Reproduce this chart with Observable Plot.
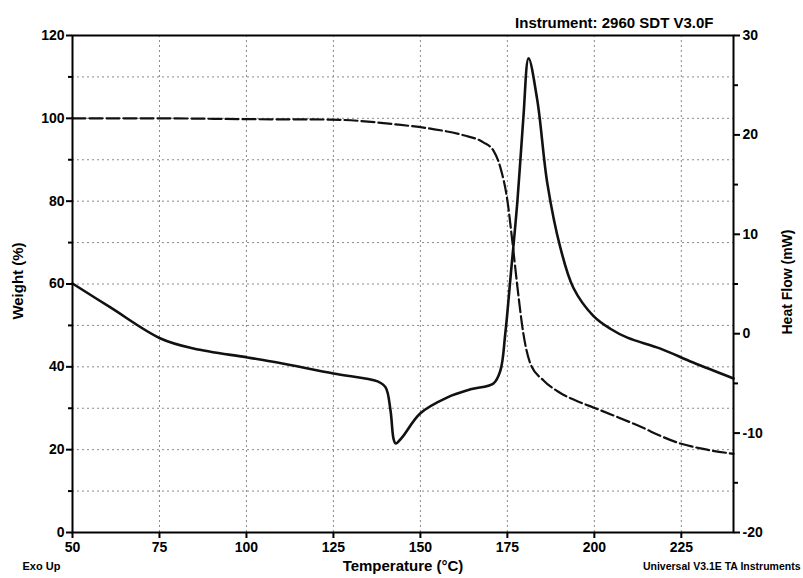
<!DOCTYPE html>
<html><head><meta charset="utf-8">
<script src="https://cdn.jsdelivr.net/npm/d3@7"></script>
<script src="https://cdn.jsdelivr.net/npm/@observablehq/plot@0.6"></script>
<style>body{margin:0;background:#fff}</style>
</head><body><div id="chart"></div>
<script>
// Heat flow (mW), right axis, solid line
const hfTemp  = [50, 60.9, 75.3, 84.8, 100.3, 108.9, 125, 137.7, 140, 141.4, 142.3, 142.9, 144.8, 150, 157.8, 164.4, 171, 173, 174.4, 175.9, 177.9, 179.6, 181.1, 183.6, 186.5, 190.2, 194, 199.7, 204.6, 209.5, 219, 228.4, 240];
const hfValue = [5.05, 2.64, -0.48, -1.49, -2.39, -2.9, -4.0, -4.8, -5.4, -7.7, -10.6, -11.05, -10.4, -8.0, -6.4, -5.6, -5.0, -3.7, 0.0, 5.65, 13.4, 21.75, 27.7, 23.5, 15.1, 8.7, 4.6, 1.8, 0.5, -0.4, -1.5, -2.9, -4.5];
// Weight (%), left axis, dashed line
const wtTemp  = [50, 75, 100, 124, 143.4, 152.9, 162.4, 168.1, 171, 173, 175, 176.4, 177.9, 179.6, 181.6, 185.4, 190, 196, 199.7, 211.2, 224.7, 230.5, 240];
const wtValue = [100, 100, 99.8, 99.7, 98.5, 97.5, 95.9, 94.2, 92.2, 88.1, 80.2, 70.5, 59.2, 48, 40.8, 36.7, 33.8, 31.4, 30.2, 26.3, 21.5, 20.3, 19.0];

const xTicks = [50, 75, 100, 125, 150, 175, 200, 225];
const xGrid = [75, 100, 125, 150, 175, 200, 225];
const weightTicks = [0, 20, 40, 60, 80, 100, 120];
const weightMinor = [10, 30, 50, 70, 90, 110];
const weightGrid = [10, 20, 30, 40, 50, 60, 70, 80, 90, 100, 110];
const heatTicks = [-20, -10, 0, 10, 20, 30];
const heatMinor = [-15, -5, 5, 15, 25];

const xLabel = "Temperature (°C)";
const yLabel = "Weight (%)";
const y2Label = "Heat Flow (mW)";
const topNote = "Instrument: 2960 SDT V3.0F";
const exoNote = "Exo Up";
const footNote = "Universal V3.1E TA Instruments";

// map heat flow (mW, -20..30) onto the weight scale (0..120)
const toW = mw => (mw + 20) * 120 / 50;
const fromW = w => w * 50 / 120 - 20;

const hf = hfTemp.map((t, i) => ({t, v: hfValue[i]}));
const wt = wtTemp.map((t, i) => ({t, v: wtValue[i]}));

const font = {fontFamily: "Liberation Sans, Arial, sans-serif", fontWeight: "bold"};

const chart = Plot.plot({
  width: 803,
  height: 578,
  marginLeft: 72,
  marginRight: 70,
  marginTop: 35,
  marginBottom: 46,
  style: {fontFamily: "Liberation Sans, Arial, sans-serif", fontWeight: "bold", fontSize: "14px", color: "#000", background: "#fff"},
  x: {domain: [50, 240]},
  y: {domain: [0, 120]},
  marks: [
    Plot.ruleY(weightGrid, {stroke: "#8a8a8a", strokeWidth: 1, strokeDasharray: "2,3"}),
    Plot.ruleX(xGrid, {stroke: "#8a8a8a", strokeWidth: 1, strokeDasharray: "2,3"}),
    Plot.axisX({ticks: xTicks, tickSize: 6, tickPadding: 4, tickFormat: d => String(d), label: null, fontSize: 14, strokeWidth: 2}),
    Plot.axisY({anchor: "left", ticks: weightTicks, tickSize: 6, tickPadding: 2, tickFormat: d => String(d), label: null, fontSize: 14, strokeWidth: 2}),
    Plot.axisY({anchor: "left", ticks: weightMinor, tickSize: 4, tickFormat: () => "", label: null, strokeWidth: 2}),
    Plot.axisY({anchor: "right", ticks: heatTicks.map(toW), tickSize: 6, tickPadding: 3, tickFormat: d => String(Math.round(fromW(d))), label: null, fontSize: 14, strokeWidth: 2}),
    Plot.axisY({anchor: "right", ticks: heatMinor.map(toW), tickSize: 4, tickFormat: () => "", label: null, strokeWidth: 2}),
    Plot.line(wt, {x: "t", y: "v", stroke: "#111", strokeWidth: 2.2, strokeDasharray: "13,4", curve: "monotone-x"}),
    Plot.line(hf, {x: "t", y: d => toW(d.v), stroke: "#111", strokeWidth: 2.6, curve: "catmull-rom"}),
    Plot.frame({stroke: "#000", strokeWidth: 2}),
    Plot.text([xLabel], {frameAnchor: "bottom", dx: 0, dy: 38, textAnchor: "middle", fontSize: 15, ...font}),
    Plot.text([yLabel], {frameAnchor: "left", dx: -54, dy: -3, rotate: -90, textAnchor: "middle", fontSize: 15, ...font}),
    Plot.text([y2Label], {frameAnchor: "right", dx: 54, dy: -2, rotate: -90, textAnchor: "middle", fontSize: 14, ...font}),
    Plot.text([topNote], {frameAnchor: "top-right", dx: -20, dy: -18, textAnchor: "end", fontSize: 15, ...font}),
    Plot.text([exoNote], {frameAnchor: "bottom-left", dx: -50, dy: 37, textAnchor: "start", fontSize: 11, ...font}),
    Plot.text([footNote], {frameAnchor: "bottom-right", dx: 67, dy: 37, textAnchor: "end", fontSize: 10.5, ...font})
  ]
});
document.getElementById("chart").appendChild(chart);
</script>
</body></html>
